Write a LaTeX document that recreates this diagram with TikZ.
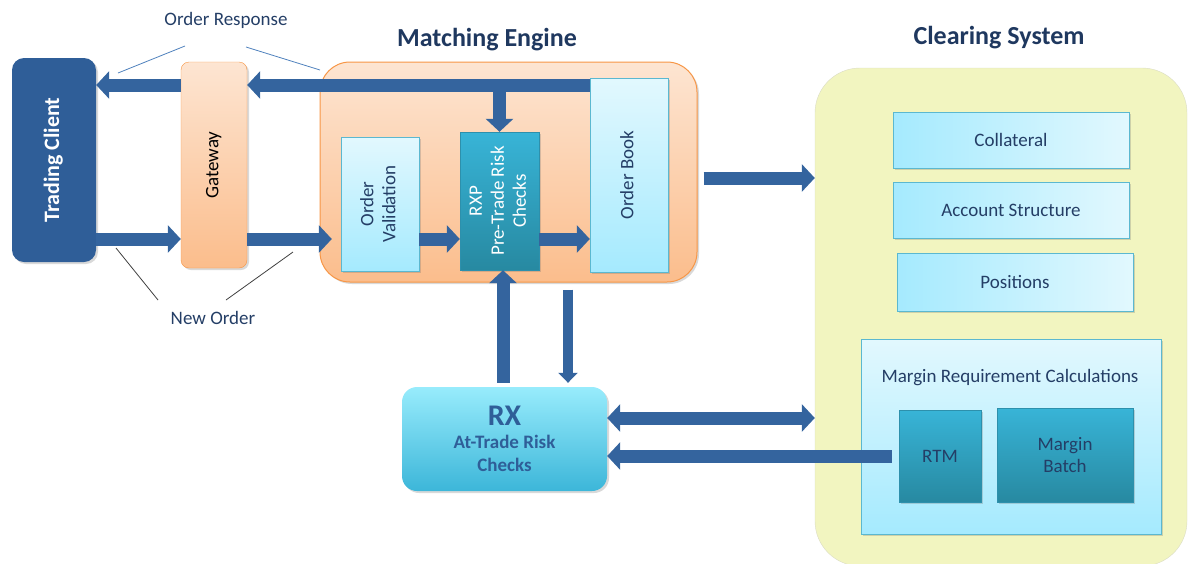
\documentclass[tikz,border=0pt]{standalone}
\usepackage{fontspec}
\usepackage{graphicx}
\setmainfont{Carlito}
\usetikzlibrary{positioning}
\usetikzlibrary{arrows.meta,shadows}

\definecolor{clientblue}{RGB}{47,94,152}
\definecolor{arrowblue}{RGB}{52,100,158}
\definecolor{inkblue}{RGB}{36,62,102}
\definecolor{titleink}{RGB}{31,56,95}
\definecolor{orangeedge}{RGB}{247,150,70}
\definecolor{orangetop}{RGB}{253,229,210}
\definecolor{orangebot}{RGB}{251,189,140}
\definecolor{paleblue}{RGB}{226,248,254}
\definecolor{skyblue}{RGB}{165,234,254}
\definecolor{skyedge}{RGB}{91,184,208}
\definecolor{tealtop}{RGB}{56,180,215}
\definecolor{tealbot}{RGB}{39,137,161}
\definecolor{rxtop}{RGB}{152,236,252}
\definecolor{rxbot}{RGB}{60,182,217}
\definecolor{clearfill}{RGB}{242,245,192}
\definecolor{clearedge}{RGB}{218,220,196}
\definecolor{respline}{RGB}{79,129,189}
\definecolor{orderline}{RGB}{64,64,64}

\newcommand{\turned}[1]{\rotatebox{90}{\begin{tabular}{@{}c@{}}#1\end{tabular}}}

\begin{document}
\begin{tikzpicture}[x=1pt,y=-1pt,
    soft shadow/.style={drop shadow={shadow xshift=2pt,shadow yshift=-2pt,opacity=0.25,fill=black!60}},
    body/.style={font=\fontsize{19}{22}\selectfont,text=inkblue},
    title/.style={font=\fontsize{26}{30}\selectfont\bfseries,text=titleink},
    client box/.style={fill=clientblue,rounded corners=12pt,text=white,
      font=\fontsize{22}{26}\selectfont\bfseries,soft shadow},
    gate box/.style={body,text=black,top color=orangetop,bottom color=orangebot,
      draw=orangeedge,rounded corners=8pt,soft shadow},
    engine box/.style={top color=orangetop,bottom color=orangebot,draw=orangeedge,
      line width=1pt,rounded corners=30pt,soft shadow},
    pale box/.style={body,top color=paleblue,bottom color=skyblue,draw=skyedge,soft shadow},
    wide box/.style={body,left color=skyblue,right color=paleblue,draw=skyedge,
      minimum width=236pt,minimum height=56pt,soft shadow},
    teal box/.style={body,top color=tealtop,bottom color=tealbot,draw=tealtop!80!black,soft shadow},
    fat arrow/.style={draw=arrowblue,line width=13pt,-{Triangle[length=13pt,width=27pt]}},
    thin arrow/.style={draw=arrowblue,line width=10pt,-{Triangle[length=10pt,width=19pt]}},
    both arrow/.style={draw=arrowblue,line width=13pt,
      {Triangle[length=13pt,width=27pt]}-{Triangle[length=13pt,width=27pt]}}]

  \useasboundingbox (0,0) rectangle (1189,563);

  % containers
  \node[fill=clearfill,draw=clearedge,rounded corners=45pt,
    minimum width=372pt,minimum height=498pt] (cs) at (1001,317) {};
  \node[engine box,minimum width=377pt,minimum height=220pt] (me) at (508.5,172) {};
  \node[title] (metitle) at (487,40) {Matching Engine};
  \node[title] (cstitle) at (999,38) {Clearing System};

  % left side
  \node[client box,minimum width=84pt,minimum height=204pt] (tc) at (54,160) {\turned{Trading Client}};
  \node[gate box,minimum width=66pt,minimum height=206pt] (gw) at (214,165) {\turned{Gateway}};
  \node[body] (resp) at (226,20) {Order Response};
  \node[body] (neworder) at (213,318) {New Order};

  % matching engine
  \node[pale box,minimum width=78pt,minimum height=134pt] (ov) at (380,204) {\turned{Order\\Validation}};
  \node[teal box,text=white,minimum width=79pt,minimum height=138pt] (rxp) at (499.5,201)
    {\turned{RXP\\Pre-Trade Risk\\Checks}};
  \node[pale box,minimum width=78pt,minimum height=194pt] (ob) at (629,175) {\turned{Order Book}};

  % at-trade risk
  \node[top color=rxtop,bottom color=rxbot,rounded corners=15pt,soft shadow,
    minimum width=205pt,minimum height=104pt,align=center,text=clientblue,
    font=\fontsize{19}{23}\selectfont\bfseries] (rx) at (504.5,439)
    {{\fontsize{30}{32}\selectfont RX}\\At-Trade Risk\\Checks};

  % clearing system
  \node[wide box] (coll) at (1011,140) {Collateral};
  \node[wide box] (acct) at (1011,210) {Account Structure};
  \node[wide box,minimum height=58pt] (pos) at (1015,282) {Positions};
  \node[pale box,minimum width=300pt,minimum height=195pt] (mrc) at (1011,436.5) {};
  \node[body] (mrctext) at (1010,378) {Margin Requirement Calculations};
  \node[teal box,minimum width=82pt,minimum height=92pt] (rtm) at (940,456) {RTM};
  \node[teal box,align=center,minimum width=136pt,minimum height=94pt] (batch) at (1065,455)
    {Margin\\Batch};

  % rows and columns for the arrows
  \coordinate (toprow) at (0,85);
  \coordinate (lowrow) at (0,239);
  \coordinate (midrow) at (0,178);
  \coordinate (dblrow) at (0,418);
  \coordinate (retrow) at (0,456);
  \coordinate (upcol) at (503,0);
  \coordinate (thincol) at (568,0);

  \draw[fat arrow] (ob.west |- toprow) -- (gw.east |- toprow);
  \draw[fat arrow] (gw.west |- toprow) -- (tc.east |- toprow);
  \draw[fat arrow] (rxp.north |- toprow) -- (rxp.north);
  \draw[fat arrow] (tc.east |- lowrow) -- (gw.west |- lowrow);
  \draw[fat arrow,shorten >=9pt] (gw.east |- lowrow) -- (ov.west |- lowrow);
  \draw[fat arrow] (ov.east |- lowrow) -- (rxp.west |- lowrow);
  \draw[fat arrow] (rxp.east |- lowrow) -- (ob.west |- lowrow);
  \draw[fat arrow,shorten <=6pt] (me.east |- midrow) -- (cs.west |- midrow);
  \draw[fat arrow,shorten <=4pt] (rx.north -| upcol) -- (rxp.south -| upcol);
  \draw[thin arrow,shorten <=7pt,shorten >=4pt] (me.south -| thincol) -- (rx.north -| thincol);
  \draw[both arrow] (rx.east |- dblrow) -- (cs.west |- dblrow);
  \draw[fat arrow,shorten <=7pt] (rtm.west |- retrow) -- (rx.east |- retrow);

  % callout lines
  \coordinate (resp a) at (118,73);
  \coordinate (resp b) at (185,46);
  \coordinate (resp c) at (246,47);
  \coordinate (resp d) at (320,70);
  \coordinate (order a) at (116,248);
  \coordinate (order b) at (158,300);
  \coordinate (order c) at (226,300);
  \coordinate (order d) at (293,252);
  \draw[respline,line width=0.8pt] (resp a) -- (resp b) (resp c) -- (resp d);
  \draw[orderline,line width=0.8pt] (order a) -- (order b) (order c) -- (order d);

\end{tikzpicture}
\end{document}
